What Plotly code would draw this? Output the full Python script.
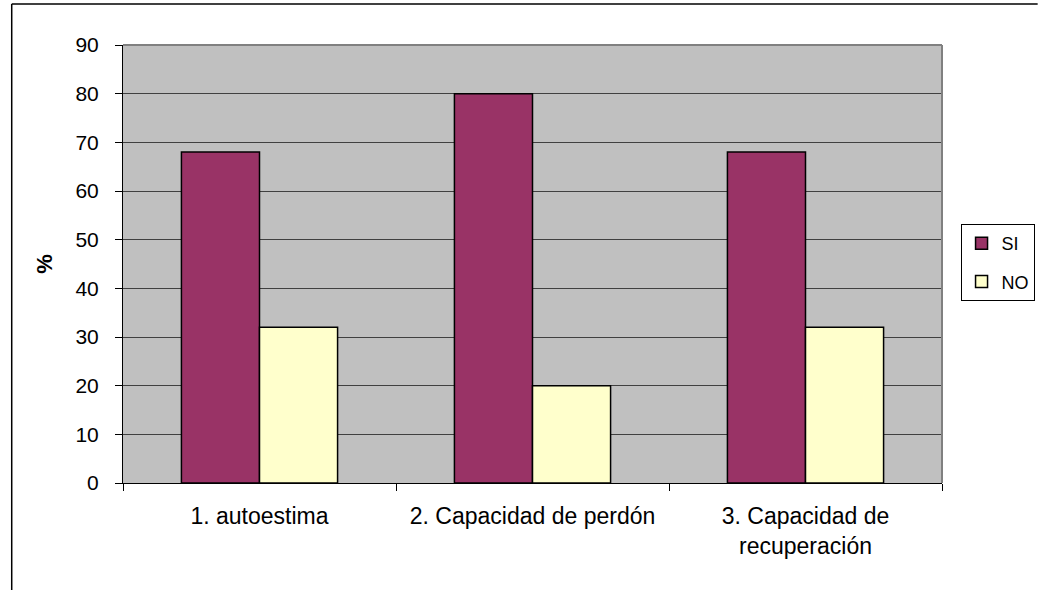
import plotly.graph_objects as go

categories = ["1. autoestima", "2. Capacidad de perdón", "3. Capacidad de<br>recuperación"]
si_values = [68, 80, 68]
no_values = [32, 20, 32]
y_ticks = [0, 10, 20, 30, 40, 50, 60, 70, 80, 90]

W, H = 1047, 590
L, R, T, B = 123, 85, 45, 107
pw, ph = W - L - R, H - T - B

def px(x):
    return (x - L) / pw

def py(y):
    return (H - B - y) / ph

font = "Liberation Sans, Arial, sans-serif"

fig = go.Figure()
fig.add_trace(go.Bar(name="SI", x=categories, y=si_values, legendgroup="si",
                     marker=dict(color="#993366", line=dict(color="black", width=1.5))))
fig.add_trace(go.Bar(name="NO", x=categories, y=no_values, legendgroup="no",
                     marker=dict(color="#FFFFCC", line=dict(color="black", width=1.5))))

fig.update_layout(
    width=W, height=H,
    margin=dict(l=L, r=R, t=T, b=B, pad=0),
    paper_bgcolor="white",
    plot_bgcolor="#C0C0C0",
    barmode="group",
    bargap=0.428,
    bargroupgap=0,
    font=dict(family=font, size=21, color="black"),
    legend=dict(x=px(981), y=py(224), xanchor="left", yanchor="top",
                bordercolor="black", borderwidth=1, bgcolor="white",
                font=dict(size=18), tracegroupgap=12, itemwidth=30,
                traceorder="grouped"),
    showlegend=True,
)
fig.update_xaxes(
    showline=True, linecolor="black", linewidth=1,
    ticks="outside", ticklen=7, tickcolor="black", tickson="boundaries",
    showgrid=False, tickfont=dict(size=23), ticklabelstandoff=12,
)
fig.update_yaxes(
    range=[0, 90], tickvals=y_ticks, showgrid=True, gridcolor="#404040", gridwidth=1,
    showline=True, linecolor="black", linewidth=1,
    ticks="outside", ticklen=7, tickcolor="black", ticklabelstandoff=12,
    tickfont=dict(size=21),
    title=dict(text="<b>%</b>", font=dict(size=22), standoff=16),
    zeroline=False,
)
# plot-area right and top border (gray)
fig.add_shape(type="line", xref="paper", yref="paper", x0=1, x1=1, y0=0, y1=1,
              line=dict(color="#808080", width=2))
fig.add_shape(type="line", xref="paper", yref="paper", x0=0, x1=1, y0=1, y1=1,
              line=dict(color="#808080", width=2))
# outer chart border (left & top visible)
fig.add_shape(type="line", xref="paper", yref="paper", x0=px(9), x1=px(9), y0=py(600), y1=py(4),
              line=dict(color="black", width=1.5))
fig.add_shape(type="line", xref="paper", yref="paper", x0=px(9), x1=px(1060), y0=py(4), y1=py(4),
              line=dict(color="black", width=1.5))

fig.write_html("out.html",
               config={"displayModeBar": False},
               post_script="document.body.style.margin='0';document.body.style.overflow='hidden';")
